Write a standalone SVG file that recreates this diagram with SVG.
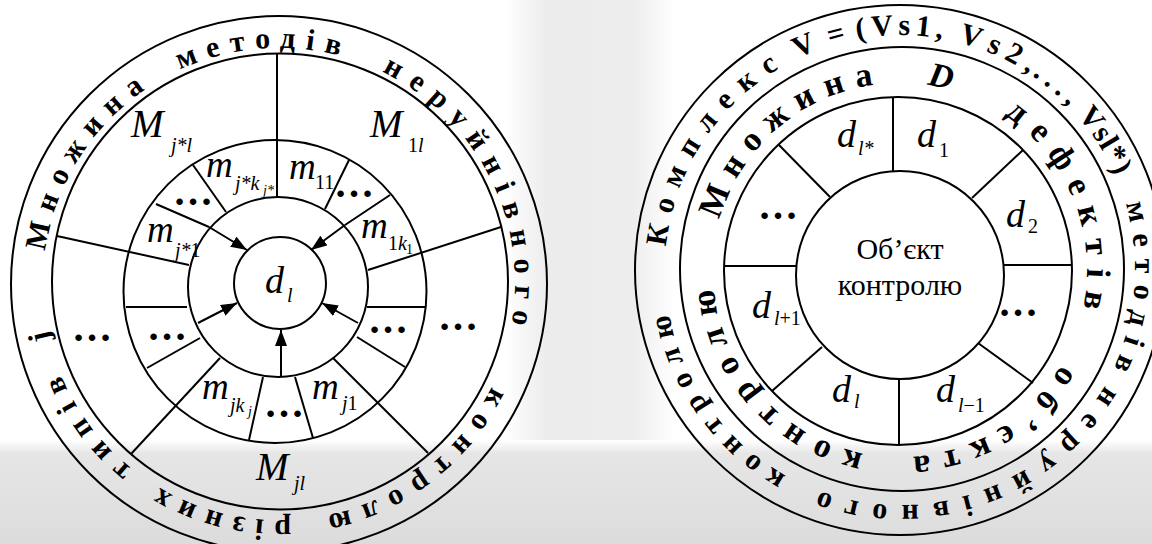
<svg xmlns="http://www.w3.org/2000/svg" width="1152" height="544" viewBox="0 0 1152 544">
<style>
.ln{stroke:#000;stroke-width:2;fill:none}
.ar{stroke:#000;stroke-width:2;fill:none;marker-end:url(#ah)}
.it{font-family:"Liberation Serif","Times New Roman",serif;font-style:italic;fill:#000}
.up{font-style:normal}
.dots{font-family:"Liberation Serif","Times New Roman",serif;font-weight:bold;font-size:40px;text-anchor:middle;fill:#000}
.ring{font-family:"Liberation Serif","Times New Roman",serif;font-weight:bold;font-size:30px;text-anchor:middle;fill:#000}
.ring2{font-size:34px}
.ctr{font-family:"Liberation Serif","Times New Roman",serif;font-size:30px;text-anchor:middle;fill:#000}
</style>
<defs>
<marker id="ah" markerWidth="16" markerHeight="12" refX="16" refY="6" orient="auto" markerUnits="userSpaceOnUse"><path d="M0,0 L16,6 L0,12 z" fill="#000"/></marker>
<linearGradient id="gBottom" x1="0" y1="0" x2="0" y2="1"><stop offset="0" stop-color="#ffffff"/><stop offset="0.13" stop-color="#e6e6e6"/><stop offset="1" stop-color="#dcdcdc"/></linearGradient>
<linearGradient id="gCol" x1="0" y1="0" x2="1" y2="0"><stop offset="0" stop-color="#ffffff"/><stop offset="0.25" stop-color="#ececec"/><stop offset="0.75" stop-color="#ededed"/><stop offset="1" stop-color="#ffffff"/></linearGradient>
<path id="pL" d="M43,284 A236,236 0 1 1 515,284 A236,236 0 1 1 43,284"/>
<path id="pRo" d="M665,270 A235,235 0 1 1 1135,270 A235,235 0 1 1 665,270"/>
<path id="pRi" d="M713,270 A187,187 0 1 1 1087,270 A187,187 0 1 1 713,270"/>
</defs>

<g id="background">
<rect x="0" y="0" width="1152" height="544" fill="#ffffff"/>
<rect x="505" y="0" width="170" height="450" fill="url(#gCol)"/>
<rect x="0" y="440" width="1152" height="104" fill="url(#gBottom)"/>
</g>

<g id="left-diagram">
<g id="left-rings">
<circle class="ln" cx="279" cy="284" r="268"/>
<circle class="ln" cx="280" cy="281.5" r="228"/>
<circle class="ln" cx="275" cy="291.5" r="151.5"/>
<circle class="ln" cx="278" cy="287" r="90"/>
</g>
<g id="left-dividers">
<line class="ln" x1="277" y1="54" x2="277" y2="197"/>
<line class="ln" x1="349" y1="160" x2="325" y2="209"/>
<line class="ln" x1="390" y1="195" x2="345" y2="225"/>
<line class="ln" x1="501" y1="227" x2="368" y2="270"/>
<line class="ln" x1="367" y1="307" x2="426" y2="307"/>
<line class="ln" x1="357" y1="337" x2="405" y2="367"/>
<line class="ln" x1="333" y1="358" x2="428" y2="453"/>
<line class="ln" x1="295" y1="377" x2="313" y2="438"/>
<line class="ln" x1="263" y1="377" x2="249" y2="440"/>
<line class="ln" x1="220" y1="358" x2="131" y2="454"/>
<line class="ln" x1="200" y1="338" x2="147" y2="368"/>
<line class="ln" x1="126" y1="307" x2="187" y2="307"/>
<line class="ln" x1="57" y1="236" x2="189" y2="265"/>
<line class="ln" x1="156" y1="204" x2="209" y2="227"/>
<line class="ln" x1="193" y1="165" x2="226" y2="212"/>
</g>
<g id="node-dl">
<circle class="ln" cx="280" cy="283" r="46"/>
<text class="it"><tspan x="265" y="293" font-size="38">d</tspan><tspan x="287" y="302" font-size="20">l</tspan></text>
</g>
<g id="left-labels">
<text class="it"><tspan x="131" y="137" font-size="39">M</tspan><tspan x="171" y="152" font-size="20">j*l</tspan></text>
<text class="it"><tspan x="370" y="137" font-size="39">M</tspan><tspan x="408" y="152" font-size="20"><tspan class="up">1</tspan>l</tspan></text>
<text class="it"><tspan x="256" y="480" font-size="39">M</tspan><tspan x="294" y="490" font-size="20">jl</tspan></text>
<text class="it"><tspan x="206" y="177" font-size="37">m</tspan><tspan x="235" y="190" font-size="20">j*k</tspan><tspan x="263" y="195" font-size="14">j*</tspan></text>
<text class="it"><tspan x="289" y="179" font-size="37">m</tspan><tspan class="up" x="315" y="189" font-size="20">11</tspan></text>
<text class="it"><tspan x="361" y="238" font-size="37">m</tspan><tspan x="388" y="250" font-size="20"><tspan class="up">1</tspan>k</tspan><tspan class="up" x="406" y="254" font-size="14">1</tspan></text>
<text class="it"><tspan x="147" y="242" font-size="37">m</tspan><tspan x="175" y="257" font-size="20">j*<tspan class="up">1</tspan></tspan></text>
<text class="it"><tspan x="202" y="399" font-size="37">m</tspan><tspan x="230" y="412" font-size="20">jk</tspan><tspan x="248" y="416" font-size="14">j</tspan></text>
<text class="it"><tspan x="312" y="399" font-size="37">m</tspan><tspan x="342" y="410" font-size="20">j<tspan class="up">1</tspan></tspan></text>
<text class="dots" x="354" y="197">…</text>
<text class="dots" x="193" y="205">…</text>
<text class="dots" x="167" y="340">…</text>
<text class="dots" x="388" y="333">…</text>
<text class="dots" x="92" y="341">…</text>
<text class="dots" x="458" y="330">…</text>
<text class="dots" x="284" y="417">…</text>
</g>
<g id="left-ring-text" class="ring">
<text><textPath href="#pL" startOffset="135.7" style="letter-spacing:10.7px">Множина</textPath></text>
<text><textPath href="#pL" startOffset="355" style="letter-spacing:10.2px">методів</textPath></text>
<text><textPath href="#pL" startOffset="634.9" style="letter-spacing:11.2px">неруйнівного</textPath></text>
<text><textPath href="#pL" startOffset="961.1" style="letter-spacing:11.5px">контролю</textPath></text>
<text><textPath href="#pL" startOffset="1173.5" style="letter-spacing:10.1px">різних</textPath></text>
<text><textPath href="#pL" startOffset="1335.2" style="letter-spacing:11.3px">типів</textPath></text>
<text><textPath href="#pL" startOffset="1431">j</textPath></text>
</g>
</g>

<g id="connectors">
<line class="ar" x1="209" y1="227" x2="247" y2="250"/>
<line class="ar" x1="345" y1="225" x2="311" y2="250"/>
<line class="ar" x1="198" y1="323" x2="237" y2="303"/>
<line class="ar" x1="358" y1="323" x2="322" y2="303"/>
<line class="ar" x1="281" y1="377" x2="281" y2="330"/>
</g>

<g id="right-diagram">
<g id="right-rings">
<circle class="ln" cx="900" cy="270" r="265"/>
<circle class="ln" cx="902" cy="269" r="222"/>
<circle class="ln" cx="898" cy="271" r="174"/>
</g>
<g id="right-dividers">
<line class="ln" x1="893" y1="97" x2="893" y2="171"/>
<line class="ln" x1="1023" y1="150" x2="972" y2="198"/>
<line class="ln" x1="1004" y1="265" x2="1072" y2="265"/>
<line class="ln" x1="978" y1="343" x2="1033" y2="383"/>
<line class="ln" x1="899" y1="379" x2="899" y2="445"/>
<line class="ln" x1="822" y1="347" x2="772" y2="391"/>
<line class="ln" x1="724" y1="266" x2="796" y2="266"/>
<line class="ln" x1="779" y1="145" x2="830" y2="197"/>
</g>
<g id="node-object">
<circle class="ln" cx="900" cy="275" r="104" fill="#ffffff"/>
<text class="ctr" x="900" y="259">Об’єкт</text>
<text class="ctr" x="900" y="295">контролю</text>
</g>
<g id="right-labels">
<text class="it"><tspan x="837" y="147" font-size="38">d</tspan><tspan x="858" y="155" font-size="20">l*</tspan></text>
<text class="it"><tspan x="917" y="147" font-size="38">d</tspan><tspan class="up" x="939" y="157" font-size="20">1</tspan></text>
<text class="it"><tspan x="1006" y="227" font-size="38">d</tspan><tspan class="up" x="1028" y="233" font-size="20">2</tspan></text>
<text class="it"><tspan x="752" y="318" font-size="38">d</tspan><tspan x="774" y="325" font-size="20">l<tspan class="up">+1</tspan></tspan></text>
<text class="it"><tspan x="832" y="402" font-size="38">d</tspan><tspan x="854" y="408" font-size="20">l</tspan></text>
<text class="it"><tspan x="936" y="402" font-size="38">d</tspan><tspan x="958" y="412" font-size="20">l<tspan class="up">−1</tspan></tspan></text>
<text class="dots" x="778" y="219">…</text>
<text class="dots" x="1018" y="316">…</text>
</g>
<g id="right-ring-text-inner" class="ring ring2">
<text><textPath href="#pRi" startOffset="164.5" style="letter-spacing:11.3px">Множина</textPath></text>
<text style="font-style:italic"><textPath href="#pRi" startOffset="332.9">D</textPath></text>
<text><textPath href="#pRi" startOffset="521" style="letter-spacing:12.2px">дефектів</textPath></text>
<text><textPath href="#pRi" startOffset="782.8" style="letter-spacing:11.3px">об’єкта</textPath></text>
<text><textPath href="#pRi" startOffset="1042.7" style="letter-spacing:12.1px">контролю</textPath></text>
</g>
<g id="right-ring-text-outer" class="ring">
<text><textPath href="#pRo" startOffset="138.6" style="letter-spacing:12.3px">Комплекс</textPath></text>
<text><textPath href="#pRo" startOffset="273.6">V</textPath></text>
<text><textPath href="#pRo" startOffset="306.4">=</textPath></text>
<text><textPath href="#pRo" startOffset="330.6">(</textPath></text>
<text><textPath href="#pRo" startOffset="378.5" style="letter-spacing:5px">Vs1,</textPath></text>
<text><textPath href="#pRo" startOffset="470.3" style="letter-spacing:7.4px">Vs2,</textPath></text>
<text><textPath href="#pRo" startOffset="536.1" style="letter-spacing:6px">...,</textPath></text>
<text><textPath href="#pRo" startOffset="606" style="letter-spacing:1.2px">Vsl*)</textPath></text>
<text><textPath href="#pRo" startOffset="760.5" style="letter-spacing:11.1px">методів</textPath></text>
<text><textPath href="#pRo" startOffset="1030.5" style="letter-spacing:13.6px">неруйнівного</textPath></text>
<text><textPath href="#pRo" startOffset="1333.7" style="letter-spacing:10.1px">контролю</textPath></text>
</g>
</g>
</svg>
